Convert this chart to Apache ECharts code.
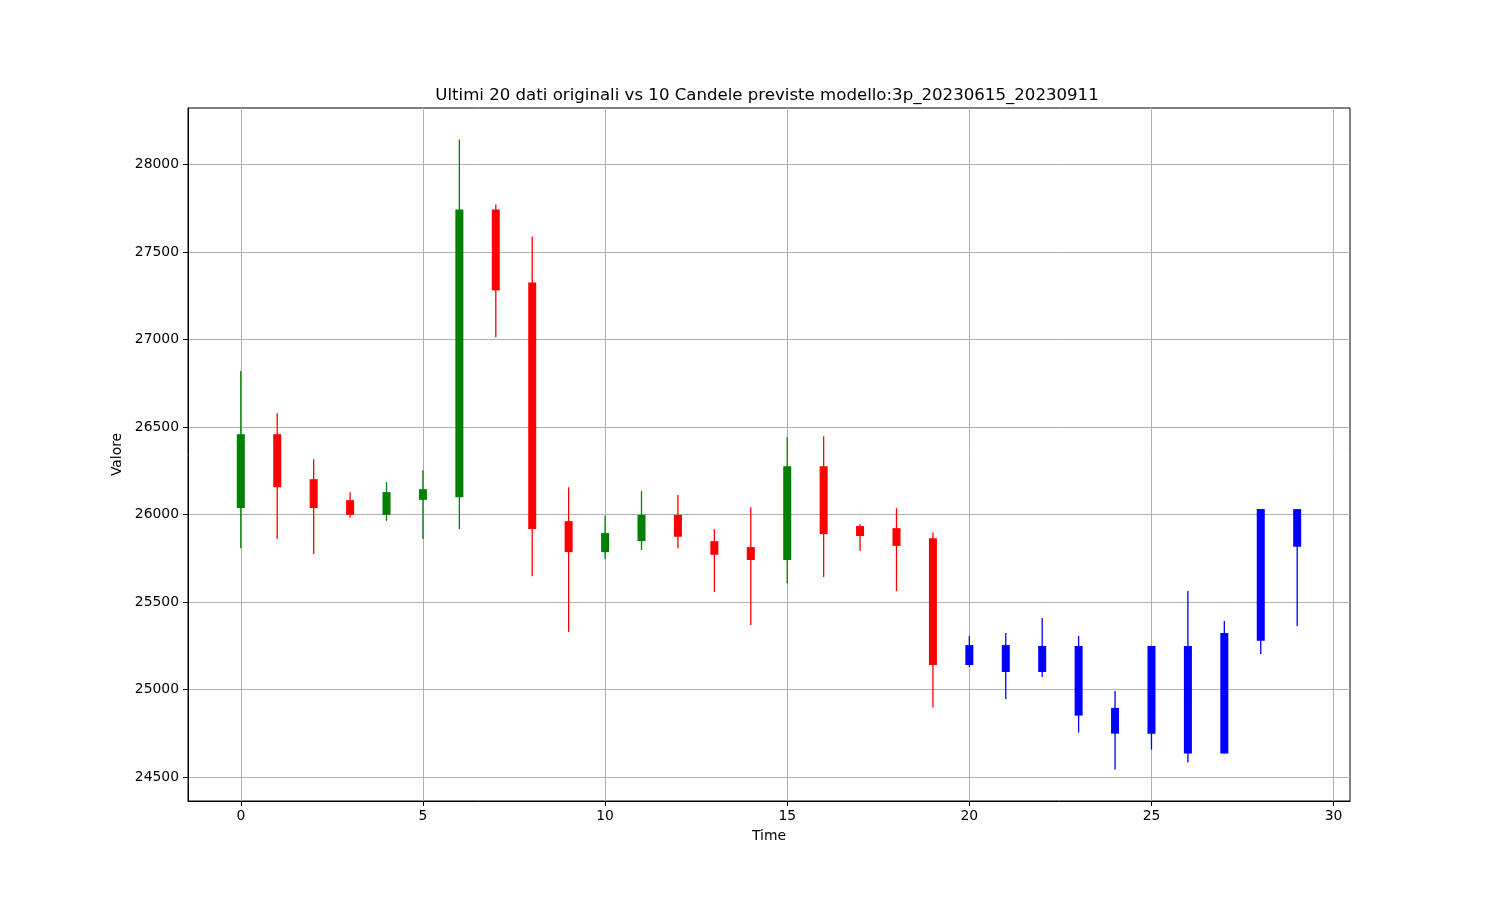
<!DOCTYPE html>
<html>
<head>
<meta charset="utf-8">
<script src="https://cdn.jsdelivr.net/npm/echarts@6/dist/echarts.min.js"></script>
<style>html,body{margin:0;padding:0;background:#fff;}#chart{width:1500px;height:900px;}</style>
</head>
<body>
<div id="chart"></div>
<script>
// ---- Data ----
var times  = [0,1,2,3,4,5,6,7,8,9,10,11,12,13,14,15,16,17,18,19,20,21,22,23,24,25,26,27,28,29];
var opens  = [26037,26459,26202,26082,25998,26084,26099,27743,27326,25962,25785,25848,25998,25848,25814,25740,26276,25934,25922,25865,25140,25254,25100,25249,24895,24748,25249,24634,25279,26031];
var closes = [26459,26156,26037,25998,26128,26145,27743,27281,25917,25785,25894,25998,25873,25770,25740,26276,25888,25877,25821,25140,25254,25100,25249,24851,24748,25249,24634,25323,26031,25816];
var lows   = [25808,25860,25774,25981,25964,25860,25917,27013,25648,25329,25745,25797,25808,25557,25369,25608,25643,25791,25563,24897,25129,24946,25072,24754,24543,24657,24583,24634,25203,25363];
var highs  = [26820,26579,26316,26128,26185,26253,28143,27772,27589,26156,25993,26133,26111,25917,26042,26442,26447,25945,26036,25898,25306,25323,25409,25306,24992,25249,25563,25391,26031,26031];
var nOriginal = 20; // first 20 are original data, rest are predicted
var title = 'Ultimi 20 dati originali vs 10 Candele previste modello:3p_20230615_20230911';

var data = times.map(function (t, i) { return [t, opens[i], closes[i], lows[i], highs[i]]; });

function candleColor(i) {
  if (i >= nOriginal) return '#0000ff';
  return closes[i] >= opens[i] ? '#008000' : '#ff0000';
}

var FONT = 'DejaVu Sans';
var chart = echarts.init(document.getElementById('chart'), null, { renderer: 'canvas' });
chart.setOption({
  animation: false,
  backgroundColor: '#ffffff',
  title: {
    text: title,
    left: 762,
    top: 82,
    textAlign: 'center',
    textStyle: { fontFamily: FONT, fontSize: 16.6, fontWeight: 'normal', color: '#000' }
  },
  grid: {
    left: 188, right: 150, top: 108, bottom: 99,
    show: true, borderColor: '#000', borderWidth: 1, backgroundColor: 'transparent'
  },
  xAxis: {
    type: 'value',
    min: -1.45, max: 30.45,
    name: 'Time',
    nameLocation: 'middle',
    nameGap: 28,
    nameTextStyle: { fontFamily: FONT, fontSize: 13.9, color: '#000' },
    axisLine: { show: true, onZero: false, lineStyle: { color: '#000', width: 1 } },
    axisTick: { show: true, length: 5, lineStyle: { color: '#000' } },
    axisLabel: { showMinLabel: false, showMaxLabel: false, margin: 8, fontFamily: FONT, fontSize: 13.9, color: '#000',
      formatter: function (v) { return String(v); } },
    splitLine: { show: true, showMinLine: false, showMaxLine: false, lineStyle: { color: '#b0b0b0', width: 1 } }
  },
  yAxis: {
    type: 'value',
    min: 24363, max: 28323,
    minInterval: 500, maxInterval: 500,
    splitNumber: 8,
    name: 'Valore',
    nameLocation: 'middle',
    nameGap: 58,
    nameTextStyle: { fontFamily: FONT, fontSize: 13.9, color: '#000' },
    axisLine: { show: true, onZero: false, lineStyle: { color: '#000', width: 1 } },
    axisTick: { show: true, length: 5, lineStyle: { color: '#000' } },
    axisLabel: { showMinLabel: false, showMaxLabel: false, margin: 9, fontFamily: FONT, fontSize: 13.9, color: '#000',
      formatter: function (v) { return String(v); } },
    splitLine: { show: true, showMinLine: false, showMaxLine: false, lineStyle: { color: '#b0b0b0', width: 1 } }
  },
  series: [{
    type: 'custom',
    data: data,
    encode: { x: 0, y: [1, 2, 3, 4] },
    renderItem: function (params, api) {
      var x = api.value(0);
      var o = api.value(1), c = api.value(2), l = api.value(3), h = api.value(4);
      var pH = api.coord([x, h]);
      var pL = api.coord([x, l]);
      var pT = api.coord([x, Math.max(o, c)]);
      var pB = api.coord([x, Math.min(o, c)]);
      var w = api.size([0.22, 0])[0];
      var col = candleColor(params.dataIndex);
      var cx = pH[0];
      return {
        type: 'group',
        children: [
          { type: 'line', shape: { x1: cx, y1: pH[1], x2: cx, y2: pL[1] }, style: { stroke: col, lineWidth: 1.3, fill: null } },
          { type: 'rect', shape: { x: cx - w / 2, y: pT[1], width: w, height: Math.max(1, pB[1] - pT[1]) }, style: { fill: col, stroke: null } }
        ]
      };
    }
  }]
});
</script>
</body>
</html>
